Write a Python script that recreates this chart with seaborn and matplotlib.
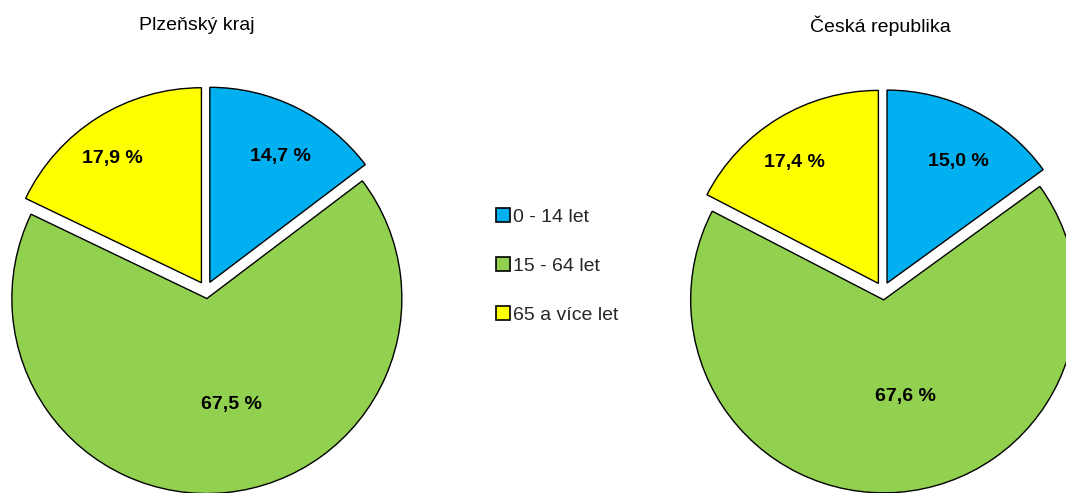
import numpy as np
import matplotlib
matplotlib.use("Agg")
import matplotlib.pyplot as plt
import seaborn as sns
from matplotlib.patches import Patch

categories = ["0 - 14 let", "15 - 64 let", "65 a více let"]
titles = ["Plzeňský kraj", "Česká republika"]
plzen_values = [14.7, 67.5, 17.9]
cr_values = [15.0, 67.6, 17.4]

colors = ["#00B0F0", "#92D050", "#FFFF00"]

sns.set_theme(style="white")
plt.rcParams['font.family'] = ['Liberation Sans', 'DejaVu Sans']

W, H = 1066, 493
fig = plt.figure(figsize=(W / 100, H / 100), dpi=100)

def make_ax(cx, cy, r, L=1.12):
    size = 2 * L * r
    left = (cx - size / 2) / W
    bottom = ((H - cy) - size / 2) / H
    ax = fig.add_axes([left, bottom, size / W, size / H])
    return ax, L

def draw(ax, L, values, title, label_pos, explode, title_x):
    wedges, texts, autotexts = ax.pie(
        values, colors=colors, startangle=90, counterclock=False,
        explode=[explode] * len(values),
        autopct=lambda p: "",
        wedgeprops=dict(edgecolor="black", linewidth=1.0),
    )
    ax.set_xlim(-L, L)
    ax.set_ylim(-L, L)
    ax.set_aspect("equal")
    ax.axis("off")
    for w, v, (d, dang) in zip(wedges, values, label_pos):
        # counterclock=False: positive offset = clockwise
        th = np.deg2rad((w.theta1 + w.theta2) / 2 - dang)
        x = w.center[0] + d * np.cos(th)
        y = w.center[1] + d * np.sin(th)
        ax.text(x, y, f"{v:.1f} %".replace(".", ","), ha="center", va="center_baseline",
                fontsize=14, fontweight="bold", color="black")
    fig.text(title_x / W, 1 - 26 / H, title, ha="center", va="center",
             fontsize=14, color="black")

ax1, L1 = make_ax(206, 290, 195)
draw(ax1, L1, plzen_values, titles[0],
     [(0.746, 2.4), (0.55, -7.4), (0.795, -3.0)], 0.044, 197)

ax2, L2 = make_ax(883, 291, 193)
draw(ax2, L2, cr_values, titles[1],
     [(0.74, 2.8), (0.505, -8.3), (0.774, -3.1)], 0.046, 880)

handles = [Patch(facecolor=c, edgecolor="black", linewidth=1.2) for c in colors]
fig.legend(handles, categories, loc="center left", bbox_to_anchor=(496 / W, 1 - 266 / H),
           frameon=False, fontsize=14, handlelength=0.7, handleheight=0.7,
           handletextpad=0.15, labelspacing=1.6, borderpad=0, borderaxespad=0)

fig.savefig("out.png", dpi=100, facecolor="white")
